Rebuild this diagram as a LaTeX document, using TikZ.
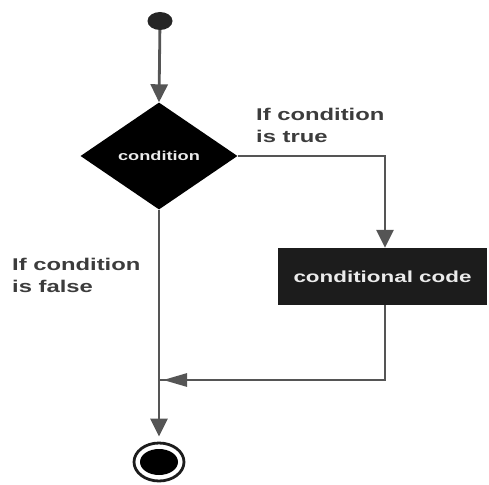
\documentclass[tikz,border=0pt]{standalone}
\usepackage{fontspec}
\setmainfont{Liberation Sans}
\usepackage{graphicx}
\usetikzlibrary{arrows.meta,shapes.geometric}
\definecolor{lineg}{RGB}{85,85,85}
\definecolor{labelg}{RGB}{60,60,60}
\definecolor{boxk}{RGB}{28,28,28}
\newcommand{\wide}[1]{\scalebox{1.4}[1]{#1}}
\tikzset{
  flow/.style={draw=lineg,line width=2.8pt},
  varr/.style={flow,-{Triangle[width=17pt,length=18pt]}},
  harr/.style={flow,-{Triangle[width=13pt,length=24pt]}},
  lbl/.style={text=labelg,font=\fontsize{17}{22}\selectfont\bfseries,align=left,inner sep=0pt,anchor=north west}
}
\begin{document}
\begin{tikzpicture}[x=1pt,y=-1pt]
    \useasboundingbox (0,0) rectangle (489,484);
    % start and decision
    \node[ellipse,fill=boxk!85!lineg,minimum width=25pt,minimum height=18pt,inner sep=0pt] (start) at (160,21) {};
    \node[diamond,fill=black,minimum width=157pt,minimum height=107pt,inner sep=0pt,text=white!92!black,font=\fontsize{13}{15}\selectfont\bfseries] (cond) at (159,156) {\wide{condition}};
    \node[rectangle,fill=boxk,minimum width=209pt,minimum height=57pt,inner sep=0pt,text=white!92!black,font=\fontsize{16}{18}\selectfont\bfseries] (code) at (382.5,276.5) {\wide{conditional code}};
    % end state
    \node[ellipse,draw=boxk,line width=2.8pt,fill=white,minimum width=50pt,minimum height=38pt,inner sep=0pt] (stop) at (159,462) {};
    \node[ellipse,fill=black,minimum width=38pt,minimum height=26pt,inner sep=0pt] (stopin) at (stop) {};
    \coordinate (merge) at (159,380);
    \draw[varr] (start) -- (cond.north);
    \draw[varr] (cond.east) -| (code.north -| 385,0);
    \draw[flow] (code.south -| 385,0) |- (merge);
    \draw[harr] (385,380) -- (163,380);
    \draw[varr,shorten >=5pt] (cond.south) -- (stop.north);
    % labels
    \node[lbl] (ltrue) at (256,108) {\wide{If condition}\\\wide{is true}};
    \node[lbl] (lfalse) at (12,258) {\wide{If condition}\\\wide{is false}};
\end{tikzpicture}
\end{document}
